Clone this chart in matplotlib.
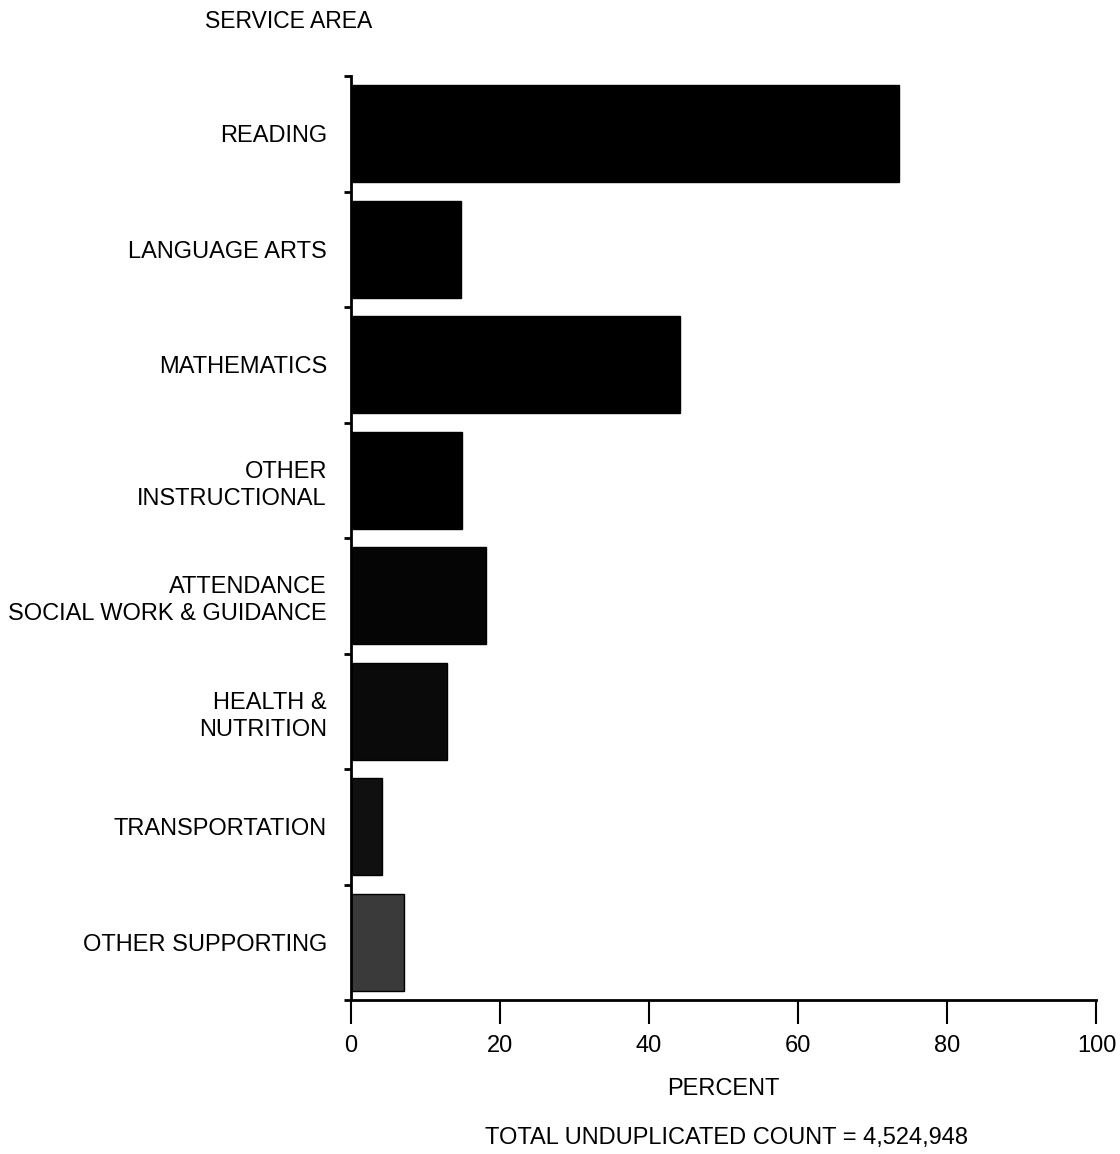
import matplotlib
matplotlib.use("Agg")
import matplotlib.pyplot as plt
import numpy as np

categories = ["READING", "LANGUAGE ARTS", "MATHEMATICS", "OTHER\nINSTRUCTIONAL",
              "ATTENDANCE\nSOCIAL WORK & GUIDANCE", "HEALTH &\nNUTRITION",
              "TRANSPORTATION", "OTHER SUPPORTING"]
percent = [73.5, 14.8, 44.2, 14.9, 18.1, 12.9, 4.2, 7.1]
bar_colors = ["#000000", "#000000", "#000000", "#000000", "#050505", "#0a0a0a", "#101010", "#3a3a3a"]
xticks = [0, 20, 40, 60, 80, 100]

plt.rcParams['font.family'] = ['Liberation Sans', 'DejaVu Sans']

fig = plt.figure(figsize=(11.2, 11.54), dpi=100)
ax = fig.add_axes([0.313, 0.1334, 0.666, 0.8006])

n = len(categories)
y = np.arange(n)
ax.barh(y, percent, height=0.84, color=bar_colors, edgecolor="black", linewidth=1)
ax.set_ylim(n - 0.5, -0.5)
ax.set_xlim(0, 100)

ax.set_yticks(y)
ax.set_yticklabels(categories, fontsize=17, ha="right", multialignment="right", linespacing=1.3)
ax.tick_params(axis="y", length=0, pad=17)
ax.set_yticks(np.arange(n + 1) - 0.5, minor=True)
ax.tick_params(axis="y", which="minor", length=5, width=2, direction="out")

ax.set_xticks(xticks)
ax.set_xticklabels([str(v) for v in xticks], fontsize=17)
ax.tick_params(axis="x", length=17, width=1.5, direction="out", pad=8)

for s in ["top", "right"]:
    ax.spines[s].set_visible(False)
ax.spines["left"].set_linewidth(2)
ax.spines["bottom"].set_linewidth(2)

ax.set_xlabel("PERCENT", fontsize=17, labelpad=15)

fig.text(0.183, 0.981, "SERVICE AREA", fontsize=16.5, ha="left", va="center")
fig.text(0.649, 0.014, "TOTAL UNDUPLICATED COUNT = 4,524,948", fontsize=17, ha="center", va="center")

fig.savefig("out.png", dpi=100, facecolor="white")
